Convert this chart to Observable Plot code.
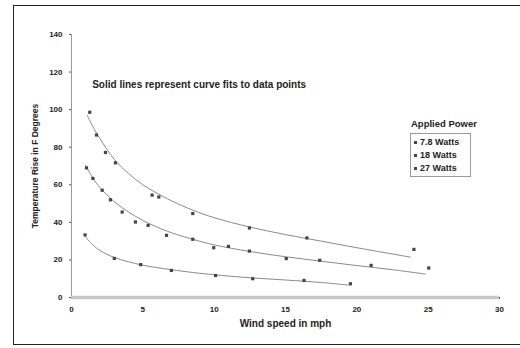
<!DOCTYPE html>
<html><head><meta charset="utf-8">
<script src="https://cdn.jsdelivr.net/npm/d3@7"></script>
<script src="https://cdn.jsdelivr.net/npm/@observablehq/plot@0.6"></script>
<style>
body{margin:0;background:#fff;font-family:"Liberation Sans",Arial,sans-serif;overflow:hidden;}
#wrap{position:relative;width:520px;height:348px;overflow:hidden;}
#frame{position:absolute;left:13px;top:5px;width:530px;height:338px;border:1.5px solid #222;border-right:none;pointer-events:none;}
#legend{position:absolute;left:410px;top:118px;font-weight:bold;font-size:9px;color:#222;}
#legend .title{margin-left:1px;margin-bottom:4px;font-size:9.5px;}
#legend .box{border:1px solid #999;padding:2px 4px 1px 3px;width:52px;}
#legend .item{height:13px;line-height:13px;white-space:nowrap;}
#legend .sw{display:inline-block;width:3px;height:3px;background:#444;margin-right:3px;vertical-align:middle;}
</style></head>
<body><div id="wrap"><div id="chart"></div><div id="frame"></div><div id="legend"></div></div>
<script>
const seriesNames = ["7.8 Watts", "18 Watts", "27 Watts"];
const xTicks = [0, 5, 10, 15, 20, 25, 30];
const yTicks = [0, 20, 40, 60, 80, 100, 120, 140];

const wind7 = [0.95, 3.0, 4.85, 7.0, 10.1, 12.7, 16.3, 19.55];
const temp7 = [33.3, 20.8, 17.5, 14.4, 11.7, 10.0, 9.1, 7.3];
const wind18 = [1.05, 1.5, 2.15, 2.73, 3.55, 4.48, 5.37, 6.66, 8.5, 9.97, 11.0, 12.47, 15.05, 17.4, 21.0, 25.04];
const temp18 = [69, 63.4, 57.1, 52.0, 45.5, 40.2, 38.4, 33.1, 31.0, 26.5, 27.2, 24.7, 20.7, 19.8, 17.1, 15.7];
const wind27 = [1.28, 1.75, 2.38, 3.08, 5.65, 6.12, 8.5, 12.47, 16.5, 24.0];
const temp27 = [98.6, 86.5, 77.2, 71.7, 54.5, 53.5, 44.7, 37.0, 31.7, 25.6];

const fitWind7 = [0.98, 1.5, 2, 3, 4, 5, 6, 7, 8.5, 10, 12.5, 15, 17.5, 19.4];
const fitTemp7 = [32.2, 28, 25, 21.3, 19, 17.2, 15.9, 14.8, 13.3, 12.1, 10.5, 9.3, 8.0, 6.6];
const fitWind18 = [0.98, 1.5, 2, 3, 4, 5, 6, 7, 8.5, 10, 12.5, 15, 17.5, 20, 22.5, 24.8];
const fitTemp18 = [70.5, 63.5, 58.5, 51, 45.5, 41, 37.5, 34.5, 31, 28, 24.5, 21.7, 19.3, 17, 14.8, 12.5];
const fitWind27 = [1.1, 1.5, 2, 3, 4, 5, 6, 7, 8.5, 10, 12.5, 15, 17.5, 20, 23.75];
const fitTemp27 = [97, 91, 84.5, 73.5, 66, 60, 55.5, 51.5, 46.5, 42.5, 37.5, 33.5, 30, 26.5, 21.5];

const annotation = "Solid lines represent curve fits to data points";
const xTitle = "Wind speed in mph";
const yTitle = "Temperature Rise in F Degrees";
const legendTitle = "Applied Power";

const pts = [
  ...wind7.map((w, i) => ({s: seriesNames[0], x: w, y: temp7[i]})),
  ...wind18.map((w, i) => ({s: seriesNames[1], x: w, y: temp18[i]})),
  ...wind27.map((w, i) => ({s: seriesNames[2], x: w, y: temp27[i]}))
];
const fits = [
  ...fitWind7.map((w, i) => ({s: seriesNames[0], x: w, y: fitTemp7[i]})),
  ...fitWind18.map((w, i) => ({s: seriesNames[1], x: w, y: fitTemp18[i]})),
  ...fitWind27.map((w, i) => ({s: seriesNames[2], x: w, y: fitTemp27[i]}))
];

const chart = Plot.plot({
  width: 520, height: 348,
  marginLeft: 71, marginRight: 21, marginTop: 34, marginBottom: 51,
  style: {fontFamily: '"Liberation Sans", Arial, sans-serif', fontWeight: "bold", color: "#222", background: "transparent"},
  x: {domain: [0, 30]},
  y: {domain: [0, 140]},
  marks: [
    Plot.axisX({ticks: xTicks, tickSize: 2, tickPadding: 7, fontSize: 8, label: null, stroke: "#555"}),
    Plot.axisY({ticks: yTicks, tickSize: 2, tickPadding: 7, fontSize: 8, label: null, stroke: "#555"}),
    Plot.ruleX([0], {stroke: "#999", strokeWidth: 1}),
    Plot.ruleY([0], {stroke: "#c8c8c8", strokeWidth: 3.5}),
    Plot.line(fits, {x: "x", y: "y", z: "s", stroke: "#8a8a8a", strokeWidth: 1, curve: "catmull-rom"}),
    Plot.dot(pts, {x: "x", y: "y", symbol: "square", r: 1.8, fill: "#444"}),
    Plot.text([annotation], {x: 1.45, y: 113, textAnchor: "start", fontSize: 10, fontWeight: "bold", fill: "#222"}),
    Plot.text([xTitle], {frameAnchor: "bottom", dy: 29, fontSize: 10, fontWeight: "bold", fill: "#222"}),
    Plot.text([yTitle], {frameAnchor: "left", textAnchor: "middle", dx: -36, rotate: -90, fontSize: 8.5, fontWeight: "bold", fill: "#222"})
  ]
});
document.getElementById("chart").appendChild(chart);

const lg = document.getElementById("legend");
lg.innerHTML = `<div class="title">${legendTitle}</div><div class="box">` +
  seriesNames.map(n => `<div class="item"><span class="sw"></span>${n}</div>`).join("") + `</div>`;
</script></body></html>
